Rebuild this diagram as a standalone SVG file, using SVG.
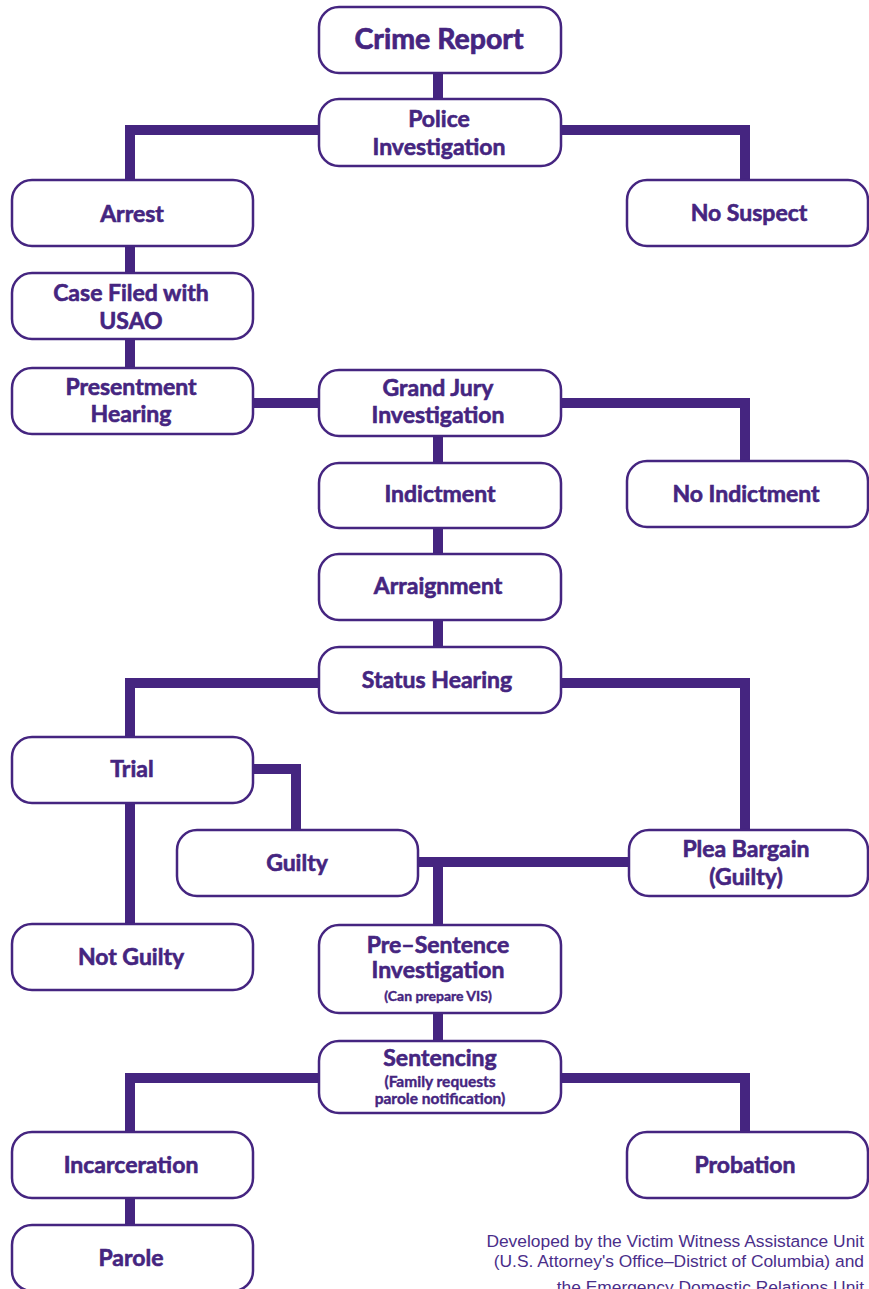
<svg xmlns="http://www.w3.org/2000/svg" width="869" height="1289" viewBox="0 0 869 1289">
<style>
.c{fill:none;stroke:#452580;stroke-width:10;stroke-linejoin:miter;stroke-linecap:butt}
.b{fill:#fff;stroke:#452580;stroke-width:2.5}
.t{font-family:Lato,"Open Sans","Noto Sans",sans-serif;font-weight:bold;font-size:23px;fill:#452580;stroke:#452580;stroke-width:0.6;text-anchor:middle}
.s{font-size:15.5px;stroke-width:0.4}
.f{font-family:"Liberation Sans",Arial,sans-serif;font-size:17.4px;fill:#4a2e8a;text-anchor:end}
</style>
<rect width="869" height="1289" fill="#fff"/>
<g id="connectors">
<path class="c" d="M438 73V99"/>
<path class="c" d="M319 130H130V180"/>
<path class="c" d="M561 130H745V180"/>
<path class="c" d="M130 246V273"/>
<path class="c" d="M130 339V368"/>
<path class="c" d="M253 403H319"/>
<path class="c" d="M561 403H745V461"/>
<path class="c" d="M438 436V463"/>
<path class="c" d="M438 528V554"/>
<path class="c" d="M438 620V647"/>
<path class="c" d="M319 683H130V737"/>
<path class="c" d="M561 683H745V830"/>
<path class="c" d="M253 769H296V830"/>
<path class="c" d="M130 803V924"/>
<path class="c" d="M418 862H629"/>
<path class="c" d="M438 862V925"/>
<path class="c" d="M438 1013V1041"/>
<path class="c" d="M319 1078H130V1132"/>
<path class="c" d="M561 1078H745V1132"/>
<path class="c" d="M130 1198V1225"/>
</g>
<g id="crime-report"><rect class="b" x="319" y="7" width="242" height="66" rx="20"/><text class="t" x="439" y="49" style="font-size:28.5px;stroke-width:0.7">Crime Report</text></g>
<g id="police-investigation"><rect class="b" x="319" y="99" width="242" height="67" rx="20"/><text class="t" x="439" y="127">Police</text><text class="t" x="439" y="155">Investigation</text></g>
<g id="arrest"><rect class="b" x="12" y="180" width="241" height="66" rx="20"/><text class="t" x="132" y="222">Arrest</text></g>
<g id="no-suspect"><rect class="b" x="627" y="180" width="241" height="66" rx="20"/><text class="t" x="749" y="221">No Suspect</text></g>
<g id="case-filed"><rect class="b" x="12" y="273" width="241" height="66" rx="20"/><text class="t" x="131" y="301">Case Filed with</text><text class="t" x="131" y="329">USAO</text></g>
<g id="presentment-hearing"><rect class="b" x="12" y="368" width="241" height="66" rx="20"/><text class="t" x="131" y="395">Presentment</text><text class="t" x="131" y="422">Hearing</text></g>
<g id="grand-jury"><rect class="b" x="319" y="370" width="242" height="66" rx="20"/><text class="t" x="438" y="396">Grand Jury</text><text class="t" x="438" y="423">Investigation</text></g>
<g id="indictment"><rect class="b" x="319" y="463" width="242" height="65" rx="20"/><text class="t" x="440" y="502">Indictment</text></g>
<g id="no-indictment"><rect class="b" x="627" y="461" width="241" height="66" rx="20"/><text class="t" x="746" y="502">No Indictment</text></g>
<g id="arraignment"><rect class="b" x="319" y="554" width="242" height="66" rx="20"/><text class="t" x="438" y="594">Arraignment</text></g>
<g id="status-hearing"><rect class="b" x="319" y="647" width="242" height="66" rx="20"/><text class="t" x="437" y="688">Status Hearing</text></g>
<g id="trial"><rect class="b" x="12" y="737" width="241" height="66" rx="20"/><text class="t" x="132" y="777">Trial</text></g>
<g id="guilty"><rect class="b" x="177" y="830" width="241" height="66" rx="20"/><text class="t" x="297" y="871">Guilty</text></g>
<g id="plea-bargain"><rect class="b" x="629" y="830" width="239" height="66" rx="20"/><text class="t" x="746" y="857">Plea Bargain</text><text class="t" x="746" y="885">(Guilty)</text></g>
<g id="not-guilty"><rect class="b" x="12" y="924" width="241" height="66" rx="20"/><text class="t" x="131" y="965">Not Guilty</text></g>
<g id="pre-sentence"><rect class="b" x="319" y="925" width="242" height="88" rx="20"/><text class="t" x="438" y="953">Pre–Sentence</text><text class="t" x="438" y="978">Investigation</text><text class="t" x="438" y="1001" style="font-size:14px;stroke-width:0.4">(Can prepare VIS)</text></g>
<g id="sentencing"><rect class="b" x="319" y="1041" width="242" height="72" rx="20"/><text class="t" x="440" y="1066">Sentencing</text><text class="t s" x="440" y="1087">(Family requests</text><text class="t s" x="440" y="1104">parole notification)</text></g>
<g id="incarceration"><rect class="b" x="12" y="1132" width="241" height="66" rx="20"/><text class="t" x="131" y="1173">Incarceration</text></g>
<g id="probation"><rect class="b" x="627" y="1132" width="241" height="66" rx="20"/><text class="t" x="745" y="1173">Probation</text></g>
<g id="parole"><rect class="b" x="12" y="1225" width="241" height="66" rx="20"/><text class="t" x="131" y="1266">Parole</text></g>
<g id="credit">
<text class="f" x="864" y="1247">Developed by the Victim Witness Assistance Unit</text>
<text class="f" x="864" y="1267">(U.S. Attorney's Office–District of Columbia) and</text>
<text class="f" x="864" y="1293">the Emergency Domestic Relations Unit</text>
</g>
</svg>
